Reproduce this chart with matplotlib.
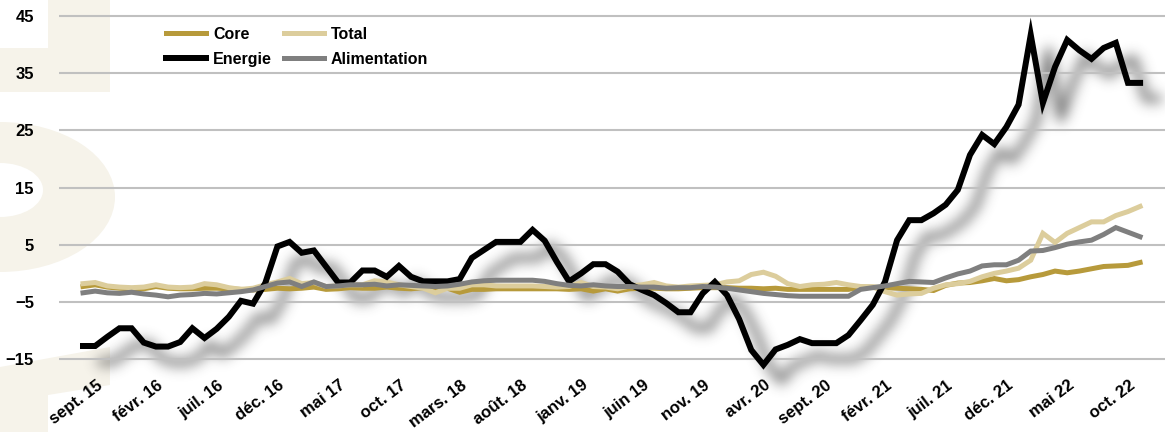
import numpy as np
import matplotlib
matplotlib.use('Agg')
import matplotlib.pyplot as plt
from matplotlib.patches import Polygon, Ellipse
from matplotlib.transforms import ScaledTranslation

# Monthly values, sept. 2015 -> déc. 2022
tick_labels = ['sept. 15', 'févr. 16', 'juil. 16', 'déc. 16', 'mai 17', 'oct. 17',
               'mars. 18', 'août. 18', 'janv. 19', 'juin 19', 'nov. 19', 'avr. 20',
               'sept. 20', 'févr. 21', 'juil. 21', 'déc. 21', 'mai 22', 'oct. 22']

core = [-2.3, -2.0, -2.4, -2.6, -2.7, -2.7, -2.3, -2.6, -2.7, -2.7,
        -2.6, -2.6, -2.7, -2.8, -2.9, -2.8, -2.6, -2.7, -2.6, -2.4,
        -2.8, -2.7, -2.5, -2.6, -2.6, -2.4, -2.6, -2.7, -2.5, -2.8,
        -2.6, -3.3, -2.8, -2.8, -2.7, -2.7, -2.7, -2.7, -2.7, -2.7,
        -2.8, -2.7, -3.1, -2.7, -3.1, -2.7, -2.6, -2.6, -2.7, -2.7,
        -2.6, -2.5, -2.5, -2.5, -2.6, -2.6, -2.7, -2.6, -2.8, -2.8,
        -2.8, -2.8, -2.8, -2.8, -2.4, -2.4, -2.5, -2.6, -2.7, -2.8,
        -3.0, -2.1, -1.7, -1.6, -1.3, -0.9, -1.3, -1.1, -0.6, -0.2,
        0.4, 0.1, 0.4, 0.8, 1.2, 1.3, 1.4, 1.9]

total = [-1.8, -1.6, -2.2, -2.4, -2.5, -2.4, -2.0, -2.4, -2.5, -2.4,
         -1.8, -2.0, -2.5, -2.8, -2.6, -2.0, -1.5, -0.9, -1.8, -1.6,
         -2.3, -2.2, -2.0, -2.0, -1.3, -1.5, -2.0, -2.3, -2.6, -3.4,
         -2.6, -2.6, -2.0, -2.0, -2.2, -2.2, -2.2, -2.2, -2.3, -2.4,
         -2.3, -1.6, -2.3, -2.4, -2.7, -2.2, -2.0, -1.6, -2.2, -2.4,
         -2.2, -2.1, -2.0, -1.5, -1.3, -0.2, 0.2, -0.5, -1.8, -2.3,
         -2.0, -1.9, -1.6, -2.0, -2.3, -2.4, -3.2, -3.8, -3.6, -3.5,
         -2.6, -2.0, -1.8, -1.4, -0.6, 0.0, 0.4, 0.9, 2.3, 7.0,
         5.4, 7.0, 8.0, 9.0, 9.0, 10.1, 10.8, 11.7]

energie = [-12.7, -12.7, -11.1, -9.6, -9.6, -12.1, -12.8, -12.8, -12.0, -9.6,
           -11.3, -9.7, -7.6, -4.8, -5.3, -1.7, 4.7, 5.5, 3.6, 4.0,
           1.2, -1.6, -1.6, 0.5, 0.5, -0.6, 1.3, -0.6, -1.4, -1.4,
           -1.4, -1.0, 2.7, 4.1, 5.5, 5.5, 5.5, 7.6, 5.7, 2.0,
           -1.4, 0.0, 1.6, 1.6, 0.3, -1.9, -2.9, -3.8, -5.2, -6.8,
           -6.8, -3.5, -1.5, -3.8, -8.0, -13.4, -16.0, -13.3, -12.5, -11.5,
           -12.2, -12.2, -12.2, -10.8, -8.2, -5.5, -1.5, 5.8, 9.3, 9.3,
           10.5, 12.0, 14.6, 20.7, 24.2, 22.6, 25.6, 29.5, 41.7, 29.8,
           36.1, 40.8, 39.0, 37.5, 39.4, 40.3, 33.3, 33.3]

alimentation = [-3.4, -3.1, -3.4, -3.5, -3.3, -3.6, -3.8, -4.1, -3.8, -3.7,
                -3.5, -3.6, -3.4, -3.2, -2.9, -2.3, -1.7, -1.5, -2.3, -1.5,
                -2.3, -2.2, -2.0, -2.0, -1.9, -2.2, -2.0, -2.1, -2.2, -2.3,
                -2.2, -1.9, -1.5, -1.3, -1.2, -1.2, -1.2, -1.2, -1.4, -1.8,
                -2.1, -2.2, -2.0, -2.2, -2.3, -2.3, -2.4, -2.4, -2.6, -2.5,
                -2.5, -2.3, -2.4, -2.6, -2.9, -3.2, -3.5, -3.7, -3.9, -4.0,
                -4.0, -4.0, -4.0, -4.0, -2.8, -2.5, -2.2, -1.8, -1.4, -1.5,
                -1.6, -0.8, -0.1, 0.4, 1.3, 1.5, 1.5, 2.3, 3.9, 4.0,
                4.5, 5.1, 5.5, 5.8, 6.8, 8.0, 7.2, 6.4]

x = np.arange(len(energie))

W, H, DPI = 1165, 432, 100
ax_rect = [59 / W, 1 - 370.6 / H, (W - 59) / W, 357.5 / H]
xlim = (-1.975, 89.05)
ylim = (-17, 45.5)

GOLD = '#b79a3b'
BEIGE = '#dccd9c'
GRAY = '#7f7f7f'
DECOR = '#f6f3ea'

plt.rcParams['font.family'] = ['Liberation Sans', 'DejaVu Sans']
plt.rcParams['font.weight'] = 'bold'

fig = plt.figure(figsize=(W / DPI, H / DPI), dpi=DPI)

# background decoration on the left edge (figure pixels, origin top-left)
def px(xp, yp):
    return (xp / W, 1 - yp / H)

decor = [
    Polygon([px(48, 0), px(110, 0), px(110, 92), px(0, 92), px(0, 48), px(48, 48)]),
    Polygon([px(0, 367), px(110, 347), px(110, 385), px(48, 395), px(48, 432), px(0, 432)]),
]
for p in decor:
    p.set_transform(fig.transFigure)
    p.set_facecolor(DECOR)
    p.set_edgecolor('none')
    p.set_zorder(-3)
    fig.patches.append(p)
bowl = Ellipse(px(0, 197), 230 / W, 150 / H, transform=fig.transFigure,
               facecolor=DECOR, edgecolor='none', zorder=-3)
hole = Ellipse(px(0, 190), 86 / W, 54 / H, transform=fig.transFigure,
               facecolor='white', edgecolor='none', zorder=-3)
fig.patches.extend([bowl, hole])

# blurred drop shadow of the energy line, rendered off-screen
sfig = plt.figure(figsize=(W / DPI, H / DPI), dpi=DPI)
sfig.patch.set_alpha(0)
sax = sfig.add_axes(ax_rect)
sax.set_xlim(*xlim)
sax.set_ylim(*ylim)
sax.axis('off')
sax.plot(x, energie, color='black', lw=7 * 72 / DPI, clip_on=False)
sfig.canvas.draw()
alpha = np.asarray(sfig.canvas.buffer_rgba())[..., 3].astype(float) / 255
plt.close(sfig)

sigma = 6.5
k = np.arange(-20, 21)
kernel = np.exp(-k ** 2 / (2 * sigma ** 2))
kernel /= kernel.sum()
alpha = np.apply_along_axis(lambda r: np.convolve(r, kernel, mode='same'), 1, alpha)
alpha = np.apply_along_axis(lambda c: np.convolve(c, kernel, mode='same'), 0, alpha)
shadow = np.zeros((H, W, 4))
shadow[..., :3] = 0.2
shadow[..., 3] = np.clip(alpha * 0.75, 0, 1)
fig.figimage(shadow, xo=18, yo=-16, origin='upper', zorder=-1)

ax = fig.add_axes(ax_rect)
ax.patch.set_alpha(0)
ax.set_xlim(*xlim)
ax.set_ylim(*ylim)

lw = 5 * 72 / DPI
ax.plot(x, core, color=GOLD, lw=lw, label='Core', zorder=3, solid_joinstyle='miter')
ax.plot(x, total, color=BEIGE, lw=lw, label='Total', zorder=4, solid_joinstyle='miter')
ax.plot(x, energie, color='black', lw=6 * 72 / DPI, label='Energie', zorder=5,
        solid_joinstyle='miter', clip_on=False)
ax.plot(x, alimentation, color=GRAY, lw=lw, label='Alimentation', zorder=6,
        solid_joinstyle='miter')

ax.set_yticks(np.arange(-15, 46, 10))
ax.yaxis.grid(True, color='#c0c0c0', lw=1.5)
ax.set_axisbelow(True)
ax.tick_params(axis='y', length=0, pad=18, labelsize=12)
ax.tick_params(axis='x', length=0, pad=5, labelsize=12)

ax.set_xticks(x[::5])
ax.set_xticklabels(tick_labels, rotation=37, ha='right', va='top',
                   rotation_mode='anchor')
shift = ScaledTranslation(13 / DPI, 0, fig.dpi_scale_trans)
for lab in ax.get_xticklabels():
    lab.set_transform(lab.get_transform() + shift)

for s in ax.spines.values():
    s.set_visible(False)

h, l = ax.get_legend_handles_labels()
order = [0, 2, 1, 3]
ax.legend([h[i] for i in order], [l[i] for i in order], ncol=2, frameon=False,
          loc='upper left', bbox_to_anchor=(166 / W, 1 - 27 / H),
          bbox_transform=fig.transFigure, borderpad=0, borderaxespad=0,
          handlelength=2.5, handletextpad=0.45, columnspacing=0.75,
          labelspacing=0.6, prop={'size': 11.5, 'weight': 'bold'})

fig.savefig('out.png', dpi=DPI)
